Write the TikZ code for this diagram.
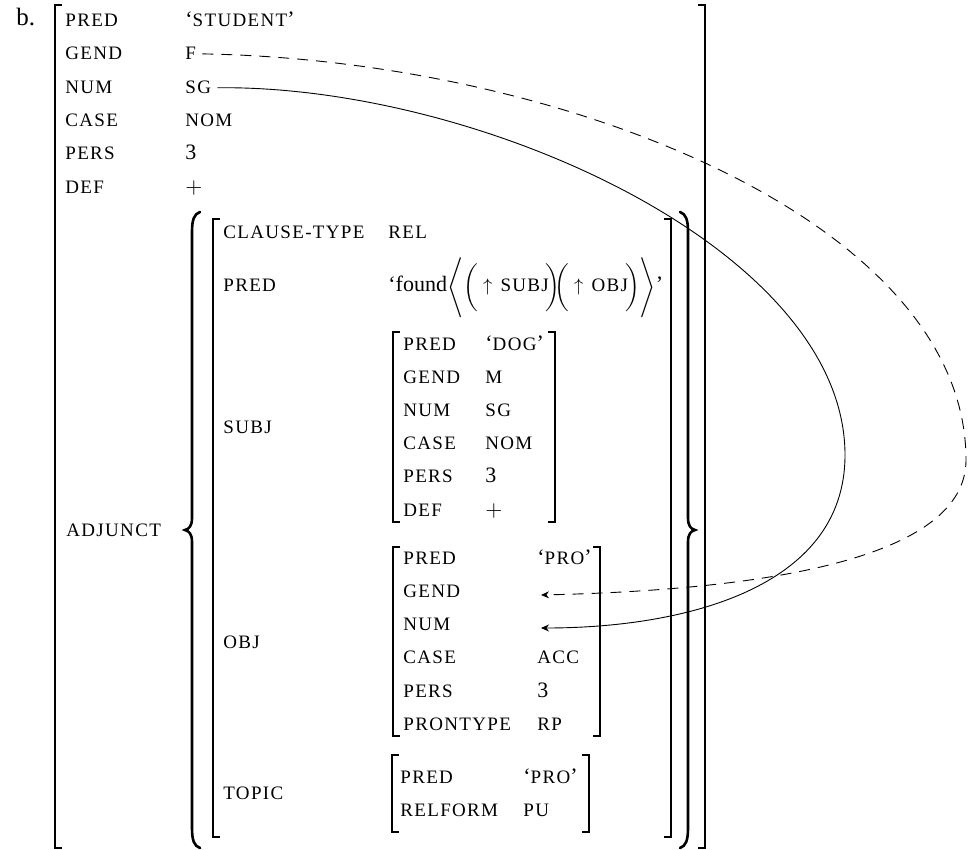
\documentclass[tikz,border=0pt]{standalone}
\usepackage{fontspec}
\setmainfont{Liberation Serif}
\newfontfamily\capsfont[LetterSpace=7]{Liberation Serif}
\usetikzlibrary{arrows.meta}
\newcommand{\fs}[1]{{\fontsize{9.5}{11}\selectfont\capsfont #1}}

\tikzset{
  every node/.style={inner sep=0pt, font=\fontsize{11}{13}\selectfont},
  feat/.style={anchor=base west},
  brk/.style={line width=0.8pt},
  brace/.style={line width=1.3pt, line cap=round},
  link/.style={line width=0.45pt, shorten <=3pt, -{Stealth[length=4pt,width=3.5pt]}},
}

\begin{document}
\begin{tikzpicture}[x=0.5pt, y=-0.5pt]
    \useasboundingbox (0,0) rectangle (968,850);
    \node[feat, font=\fontsize{12.5}{14}\selectfont] (lbl) at (16,26) {b.};
    % outer f-structure
    \node[feat] (pred) at (65,27) {\fs{PRED}};
    \node[feat] (vpred) at (185,27) {‘\fs{STUDENT}’};
    \node[feat] (gend) at (65,60) {\fs{GEND}};
    \node[feat] (vgend) at (185,60) {\fs{F}};
    \node[feat] (num) at (65,94) {\fs{NUM}};
    \node[feat] (vnum) at (185,94) {\fs{SG}};
    \node[feat] (case) at (65,127) {\fs{CASE}};
    \node[feat] (vcase) at (185,127) {\fs{NOM}};
    \node[feat] (pers) at (65,160) {\fs{PERS}};
    \node[feat] (vpers) at (185,160) {3};
    \node[feat] (def) at (65,194) {\fs{DEF}};
    \node[feat] (vdef) at (185,194) {$+$};
    \node[feat] (adj) at (66,536) {\fs{ADJUNCT}};
    % adjunct member
    \node[feat] (ctype) at (223,239) {\fs{CLAUSE-TYPE}};
    \node[feat] (vctype) at (388,239) {\fs{REL}};
    \node[feat] (ipred) at (223,292) {\fs{PRED}};
    \node[feat] (vipred) at (388,292) {‘found{\fontsize{9}{11}\selectfont$\Bigg\langle\bigg(\uparrow\,\mbox{\fs{SUBJ}}\!\bigg)\!\!\bigg(\uparrow\,\mbox{\fs{OBJ}}\!\bigg)\Bigg\rangle$}’};
    \node[feat] (subj) at (223,433) {\fs{SUBJ}};
    \node[feat] (obj) at (223,648) {\fs{OBJ}};
    \node[feat] (topic) at (223,799) {\fs{TOPIC}};
    % subj
    \node[feat] (spred) at (403,350) {\fs{PRED}};
    \node[feat] (vspred) at (485,350) {‘\fs{DOG}’};
    \node[feat] (sgend) at (403,383) {\fs{GEND}};
    \node[feat] (vsgend) at (485,383) {\fs{M}};
    \node[feat] (snum) at (403,416) {\fs{NUM}};
    \node[feat] (vsnum) at (485,416) {\fs{SG}};
    \node[feat] (scase) at (403,449) {\fs{CASE}};
    \node[feat] (vscase) at (485,449) {\fs{NOM}};
    \node[feat] (spers) at (403,482) {\fs{PERS}};
    \node[feat] (vspers) at (485,482) {3};
    \node[feat] (sdef) at (403,516) {\fs{DEF}};
    \node[feat] (vsdef) at (485,516) {$+$};
    % obj
    \node[feat] (opred) at (403,564) {\fs{PRED}};
    \node[feat] (vopred) at (537,564) {‘\fs{PRO}’};
    \node[feat] (ogend) at (403,597) {\fs{GEND}};
    \node[feat] (onum) at (403,630) {\fs{NUM}};
    \node[feat] (ocase) at (403,663) {\fs{CASE}};
    \node[feat] (vocase) at (537,663) {\fs{ACC}};
    \node[feat] (opers) at (403,697) {\fs{PERS}};
    \node[feat] (vopers) at (537,697) {3};
    \node[feat] (otype) at (403,730) {\fs{PRONTYPE}};
    \node[feat] (votype) at (537,730) {\fs{RP}};
    \coordinate (ogendslot) at (541,595);
    \coordinate (onumslot) at (541,628);
    % topic
    \node[feat] (tpred) at (400,783) {\fs{PRED}};
    \node[feat] (vtpred) at (523,783) {‘\fs{PRO}’};
    \node[feat] (tform) at (400,816) {\fs{RELFORM}};
    \node[feat] (vtform) at (523,816) {\fs{PU}};
    % brackets
    \draw[brk] (62,5) -- (55,5) -- (55,848) -- (62,848);
    \draw[brk] (698,5) -- (705,5) -- (705,848) -- (698,848);
    \draw[brk] (220,219) -- (213,219) -- (213,837) -- (220,837);
    \draw[brk] (664,219) -- (671,219) -- (671,837) -- (664,837);
    \draw[brk] (400,332) -- (393,332) -- (393,522) -- (400,522);
    \draw[brk] (548,332) -- (555,332) -- (555,522) -- (548,522);
    \draw[brk] (400,547) -- (393,547) -- (393,736) -- (400,736);
    \draw[brk] (593,547) -- (600,547) -- (600,736) -- (593,736);
    \draw[brk] (399,755) -- (392,755) -- (392,832) -- (399,832);
    \draw[brk] (582,755) -- (589,755) -- (589,832) -- (582,832);
    % set braces
    \draw[brace] (200,212) .. controls (194,214) and (192,220) .. (192,232) -- (192,518)
        .. controls (192,526) and (189,529) .. (185,530) .. controls (189,531) and (192,534) .. (192,542)
        -- (192,828) .. controls (192,840) and (194,846) .. (200,848);
    \draw[brace] (680,212) .. controls (686,214) and (688,220) .. (688,232) -- (688,518)
        .. controls (688,526) and (691,529) .. (695,530) .. controls (691,531) and (688,534) .. (688,542)
        -- (688,828) .. controls (688,840) and (686,846) .. (680,848);
    % sharing links
    \draw[link, dash pattern=on 5.5pt off 4pt] (vgend.east) .. controls (560,60) and (966,220) .. (966,460)
        .. controls (966,560) and (760,590) .. (ogendslot);
    \draw[link] (vnum.east) .. controls (480,85) and (845,250) .. (845,455)
        .. controls (845,590) and (680,628) .. (onumslot);
\end{tikzpicture}
\end{document}
